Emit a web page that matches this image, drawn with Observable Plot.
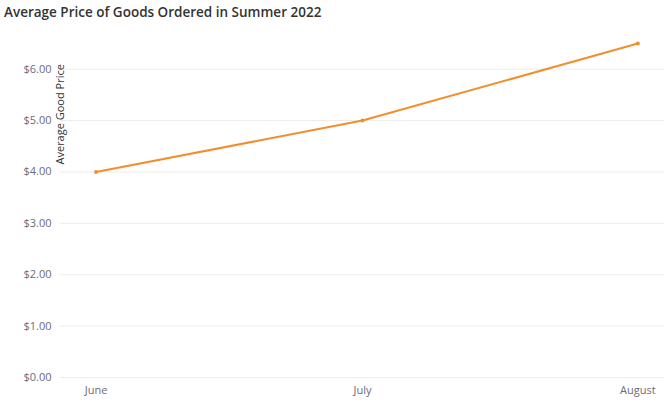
<!DOCTYPE html>
<html><head>
<script src="https://cdn.jsdelivr.net/npm/d3@7"></script>
<script src="https://cdn.jsdelivr.net/npm/@observablehq/plot@0.6"></script>
<style>
body{margin:0;background:#fff;font-family:"Open Sans",sans-serif;}
#title{font-size:13.5px;font-weight:600;color:#333;padding:3px 0 0 4px;height:22px;}
</style></head><body>
<div id="title">Average Price of Goods Ordered in Summer 2022</div>
<div id="chart"></div>
<script>
const months = ["June", "July", "August"];
const monthDates = ["2022-06-01", "2022-07-01", "2022-08-01"];
const prices = [4.0, 5.0, 6.5];
const yTicks = [0, 1, 2, 3, 4, 5, 6];
const data = months.map((m, i) => ({month: m, date: new Date(monthDates[i]), price: prices[i]}));

const chart = Plot.plot({
  width: 664,
  height: 383,
  marginLeft: 60,
  marginRight: 0,
  marginTop: 18,
  marginBottom: 31,
  style: {fontFamily: "Open Sans, sans-serif", fontSize: "11px", color: "#6b6b7b"},
  x: {type: "utc", domain: [new Date("2022-05-28"), new Date("2022-08-04")], ticks: data.map(d => d.date),
      tickFormat: d => months[data.findIndex(e => +e.date === +d)], label: null, tickSize: 0},
  y: {domain: [0, 6.5], ticks: yTicks, tickFormat: d => "$" + d.toFixed(2), label: null, tickSize: 0},
  marks: [
    Plot.gridY(yTicks, {stroke: "#ececec", strokeOpacity: 1}),
    Plot.line(data, {x: "date", y: "price", stroke: "#f28e2b", strokeWidth: 2}),
    Plot.dot(data, {x: "date", y: "price", fill: "#f28e2b", r: 2}),
    Plot.text(["Average Good Price"], {frameAnchor: "left", dy: -46, rotate: -90, fill: "#333", fontSize: 11})
  ]
});
d3.select("#chart").append(() => chart);
</script>
</body></html>
